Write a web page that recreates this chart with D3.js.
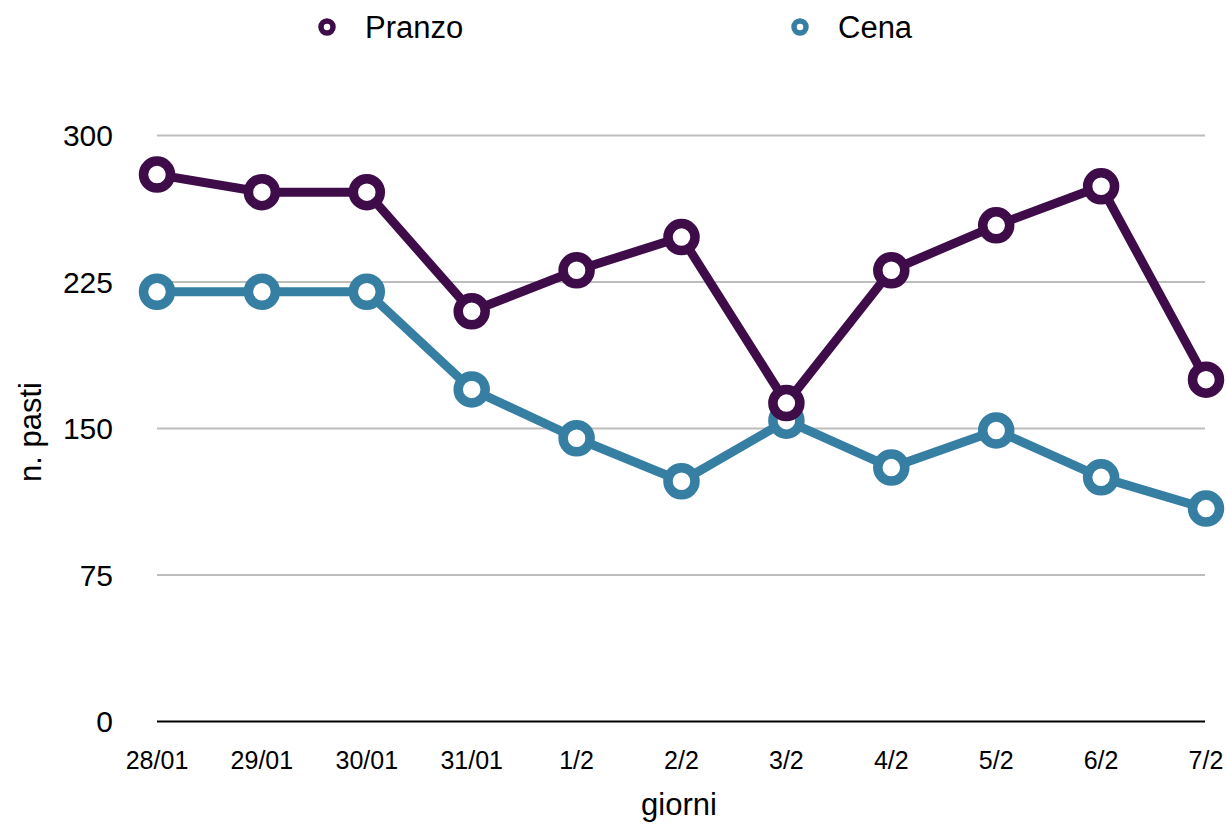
<html>
<head>
<meta charset="utf-8">
<title>Pasti</title>
<style>
  body { margin: 0; background: white; }
  text { font-family: "Liberation Sans", Arial, sans-serif; fill: #000; }
</style>
<script src="https://cdn.jsdelivr.net/npm/d3@7"></script>
</head>
<body>
<div id="chart"></div>
<script>
  var days = ['28/01', '29/01', '30/01', '31/01', '1/2', '2/2', '3/2', '4/2', '5/2', '6/2', '7/2'];
  var pranzo = [280, 271, 271, 210, 231, 248, 163, 231, 254, 274, 175];
  var cena = [220, 220, 220, 170, 145, 123, 154, 130, 149, 125, 109];
  var yTicks = [0, 75, 150, 225, 300];

  var series = [
    { name: 'Pranzo', values: pranzo, color: '#3e0c48' },
    { name: 'Cena', values: cena, color: '#367fa3' }
  ];

  var width = 1226, height = 825;
  var plotLeft = 157, plotRight = 1206, plotTop = 135.5, plotBottom = 721.5;

  var svg = d3.select('#chart')
      .append('svg')
      .attr('width', width)
      .attr('height', height);

  var x = d3.scalePoint()
      .domain(days)
      .range([plotLeft, plotRight]);

  var y = d3.scaleLinear()
      .domain([0, 300])
      .range([plotBottom, plotTop]);

  // grid lines
  svg.append('g')
      .selectAll('line')
      .data(yTicks.filter(function(d) { return d > 0; }))
      .enter().append('line')
      .attr('x1', plotLeft)
      .attr('x2', 1205)
      .attr('y1', function(d) { return y(d); })
      .attr('y2', function(d) { return y(d); })
      .attr('stroke', '#bdbdbd')
      .attr('stroke-width', 2);

  // baseline
  svg.append('line')
      .attr('x1', plotLeft)
      .attr('x2', 1205)
      .attr('y1', y(0))
      .attr('y2', y(0))
      .attr('stroke', '#000')
      .attr('stroke-width', 2);

  // y tick labels
  svg.append('g')
      .selectAll('text')
      .data(yTicks)
      .enter().append('text')
      .attr('x', 113)
      .attr('y', function(d) { return y(d) + 10.5; })
      .attr('text-anchor', 'end')
      .style('font-size', '30px')
      .text(function(d) { return d; });

  // x tick labels
  svg.append('g')
      .selectAll('text')
      .data(days)
      .enter().append('text')
      .attr('x', function(d) { return x(d); })
      .attr('y', 769)
      .attr('text-anchor', 'middle')
      .style('font-size', '25px')
      .text(function(d) { return d; });

  // axis titles
  svg.append('text')
      .attr('transform', 'translate(41,432) rotate(-90)')
      .attr('text-anchor', 'middle')
      .style('font-size', '31px')
      .text('n. pasti');

  svg.append('text')
      .attr('x', 679)
      .attr('y', 815)
      .attr('text-anchor', 'middle')
      .style('font-size', '31px')
      .text('giorni');

  var line = d3.line()
      .x(function(d, i) { return x(days[i]); })
      .y(function(d) { return y(d); });

  // Cena drawn first so Pranzo sits on top
  series.slice().reverse().forEach(function(s) {
    var g = svg.append('g');
    g.append('path')
        .datum(s.values)
        .attr('d', line)
        .attr('fill', 'none')
        .attr('stroke', s.color)
        .attr('stroke-width', 9)
        .attr('stroke-linejoin', 'round');
    g.selectAll('circle')
        .data(s.values)
        .enter().append('circle')
        .attr('cx', function(d, i) { return x(days[i]); })
        .attr('cy', function(d) { return y(d); })
        .attr('r', 13.5)
        .attr('fill', 'white')
        .attr('stroke', s.color)
        .attr('stroke-width', 9.5);
  });

  // legend
  var legend = svg.append('g')
      .selectAll('g')
      .data(series)
      .enter().append('g')
      .attr('transform', function(d, i) { return 'translate(' + [327, 800][i] + ',27)'; });

  legend.append('circle')
      .attr('r', 6)
      .attr('fill', 'white')
      .attr('stroke', function(d) { return d.color; })
      .attr('stroke-width', 5.5);

  legend.append('text')
      .attr('x', 38)
      .attr('y', 11)
      .style('font-size', '31px')
      .text(function(d) { return d.name; });
</script>
</body>
</html>
